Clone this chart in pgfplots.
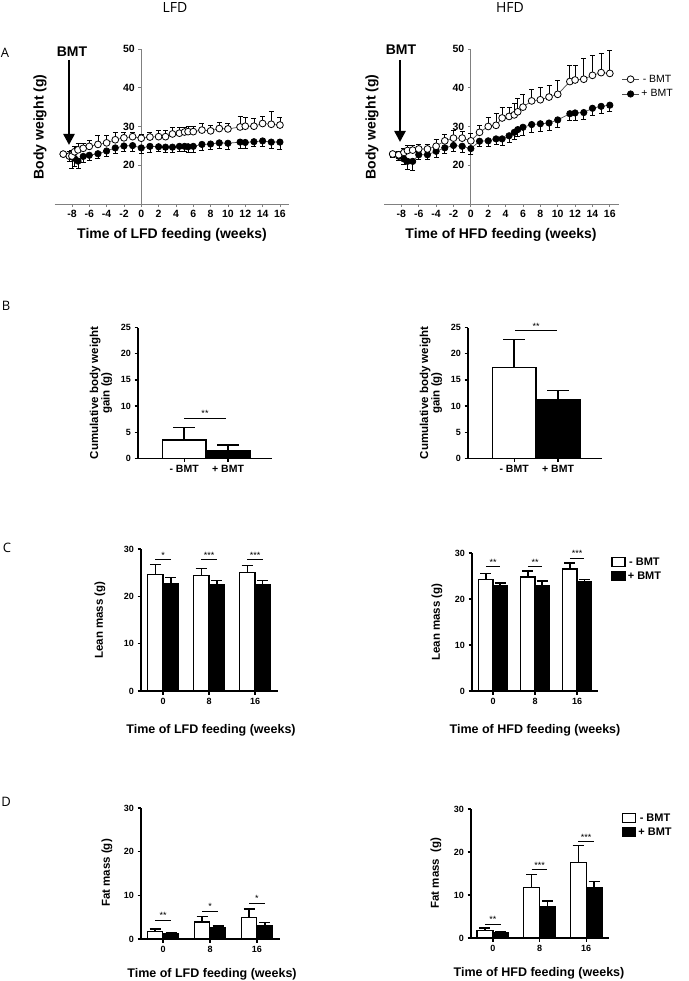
\documentclass[border=0pt]{standalone}
\usepackage{fontspec}
\setmainfont{Liberation Sans}
\newfontfamily\lightfont{Open Sans}
\usepackage{pgfplots}
\pgfplotsset{compat=1.18}
\usetikzlibrary{arrows.meta}

\newcommand\fs[1]{\fontsize{#1}{#1}\selectfont}
% significance bar: x1, x2, y, stars
\newcommand\sig[4]{\draw[line width=0.8pt] (axis cs:#1,#3) -- (axis cs:#2,#3) node[midway, above, inner sep=1pt, font=\fs{9}] {#4};}

\pgfplotsset{
  panelA/.style={scale only axis, anchor=south west,
    xmin=-10, xmax=17, ymin=10, ymax=50,
    axis x line=bottom, axis y line=middle,
    axis line style={-, draw=gray, line width=0.8pt},
    xtick={-8,-6,...,16}, ytick={20,30,40,50},
    tick align=outside, major tick length=3pt,
    tick style={gray, line width=0.8pt},
    hide obscured x ticks=false, hide obscured y ticks=false,
    ticklabel style={font=\fs{10.5}\bfseries},
    /pgf/number format/assume math mode=true,
    clip=false},
  barpanel/.style={scale only axis, anchor=south west, ymin=0,
    axis x line=bottom, axis y line=left,
    axis line style={-, line width=1.2pt},
    tick align=outside, major tick length=3.5pt,
    tick style={black, line width=1.2pt},
    ticklabel style={font=\fs{9}\bfseries},
    /pgf/number format/assume math mode=true,
    clip=false},
  openpt/.style={color=black!70, line width=0.7pt, mark=*, mark size=3.4pt,
    mark options={draw=black, fill=white, line width=0.8pt},
    error bars/.cd, y dir=plus, y explicit,
    error bar style={black, line width=0.8pt},
    error mark options={rotate=90, mark size=2.5pt, black, line width=0.8pt}},
  closedpt/.style={color=black!70, line width=0.7pt, mark=*, mark size=3.2pt,
    mark options={draw=black, fill=black},
    error bars/.cd, y dir=minus, y explicit,
    error bar style={black, line width=0.8pt},
    error mark options={rotate=90, mark size=2.5pt, black, line width=0.8pt}},
  whitebar/.style={ybar, bar shift=0pt, bar width=#1, fill=white, draw=black, line width=1.3pt,
    error bars/.cd, y dir=plus, y explicit,
    error bar style={line width=1.3pt},
    error mark options={rotate=90, mark size=5.5pt, line width=1.3pt}},
  blackbar/.style={ybar, bar shift=0pt, bar width=#1, fill=black, draw=black, line width=1.3pt,
    error bars/.cd, y dir=plus, y explicit,
    error bar style={line width=1.3pt},
    error mark options={rotate=90, mark size=5.5pt, line width=1.3pt}},
  boxlegend/.style={legend image code/.code={\draw[##1, line width=1.5pt] (0pt,-4pt) rectangle (13pt,5pt);},
    legend style={draw=none, fill=none, font=\fs{11}\bfseries, row sep=1pt,
      nodes={inner sep=2pt}}},
}

\pgfplotstableread{
w     m     e
-9    22.9  0.5
-8.3  22.4  1.1
-8    22.4  1.5
-7.7  23.5  1.3
-7.3  24.0  1.6
-6.7  24.4  1.2
-6    24.9  1.5
-5    25.4  2.3
-4    25.8  2.0
-3    26.6  2.0
-2    27.1  1.5
-1    27.4  1.2
0     27.0  1.1
1     27.3  1.3
2     27.4  1.6
2.8   27.4  1.6
3.6   28.1  1.8
4.4   28.3  1.6
5     28.6  1.3
5.4   28.7  1.4
6     28.7  1.4
7     29.1  1.7
8     28.9  1.5
9     29.5  1.7
10    29.4  1.5
11.4  29.9  2.7
12    30.1  2.4
13    30.1  2.0
14    30.8  1.8
15    30.6  3.2
16    30.4  1.9
}\lfdopen
\pgfplotstableread{
w     m     e
-9    22.9  0.5
-8.3  22.4  1.5
-8    22.2  3.0
-7.7  21.8  2.0
-7.3  21.1  2.0
-6.7  22.3  1.5
-6    22.6  1.3
-5    23.0  1.2
-4    23.7  1.3
-3    24.5  1.5
-2    25.0  1.5
-1    25.1  1.5
0     24.5  1.5
1     24.9  1.5
2     24.8  1.3
2.8   24.7  1.3
3.6   24.7  1.3
4.4   24.9  1.3
5     24.9  1.3
5.4   24.8  1.5
6     24.9  1.5
7     25.4  1.5
8     25.5  1.5
9     25.8  1.3
10    25.7  1.5
11.4  26.0  1.5
12    25.9  1.5
13    26.1  1.3
14    26.3  1.5
15    26.0  1.7
16    26.0  1.8
}\lfdclosed
\pgfplotstableread{
w     m     e
-9    22.9  0.8
-8.3  22.7  0.8
-7.7  23.3  1.0
-7.3  23.8  1.2
-6.7  23.9  1.3
-6    24.2  1.3
-5    24.2  1.2
-4    24.9  1.7
-3    26.3  1.6
-2    27.0  1.9
-1    27.0  1.7
0     26.3  2.0
1     28.5  1.9
2     30.0  2.4
2.9   30.3  3.2
3.6   32.2  2.8
4.4   32.6  2.4
5     33.0  3.0
5.4   33.8  3.5
6     35.0  3.2
7     36.6  3.0
8     36.9  3.2
9     37.6  2.9
10    38.3  3.7
11.4  41.6  4.2
12    42.0  3.8
13    42.2  5.4
14    43.2  5.2
15    43.9  5.0
16    43.7  5.9
}\hfdopen
\pgfplotstableread{
w     m     e
-9    22.9  0.8
-8.3  22.3  1.0
-7.7  21.6  1.5
-7.3  21.0  2.1
-6.7  21.0  2.4
-6    22.7  1.2
-5    22.7  1.3
-4    23.6  1.5
-3    24.5  1.5
-2    25.1  1.5
-1    24.9  1.5
0     24.3  1.5
1     26.2  1.3
2     26.3  1.5
2.9   26.8  1.5
3.6   26.8  1.8
4.4   27.6  1.8
5     28.5  1.8
5.4   29.2  1.8
6     29.8  2.0
7     30.5  2.0
8     30.7  2.0
9     30.9  2.0
10    31.7  2.0
11.4  33.3  1.8
12    33.5  1.8
13    33.6  1.8
14    34.7  1.8
15    35.2  1.7
16    35.5  1.6
}\hfdclosed

\begin{document}
\begin{tikzpicture}
\useasboundingbox (0pt,0pt) rectangle (688pt,-981pt);

% ---------------- A ----------------
\begin{axis}[panelA, at={(54.6pt,-204.1pt)}, width=234pt, height=155pt]
\addplot+[closedpt] table[x=w, y=m, y error=e] {\lfdclosed};
\addplot+[openpt] table[x=w, y=m, y error=e] {\lfdopen};
\end{axis}

\begin{axis}[panelA, at={(384pt,-204pt)}, width=234.5pt, height=155pt,
  reverse legend,
  legend style={at={(axis description cs:1.0,0.86)}, anchor=north west, draw=none, fill=none,
    font=\fs{10.5}, row sep=2pt}]
\addplot+[closedpt] table[x=w, y=m, y error=e] {\hfdclosed};
\addlegendentry{+ BMT}
\addplot+[openpt] table[x=w, y=m, y error=e] {\hfdopen};
\addlegendentry{- BMT}
\end{axis}

% ---------------- B ----------------
\begin{axis}[barpanel, at={(138pt,-458.3pt)}, width=134pt, height=130.6pt,
  xmin=-1.05, xmax=2.0, ymax=25, ytick={0,5,...,25},
  xtick={0,1}, xticklabels={- BMT, + BMT},
  xticklabel style={font=\fs{10.5}\bfseries}]
\addplot[whitebar=1, error mark options={rotate=90, mark size=11pt, line width=1.3pt}]
  coordinates {(0,3.5) +- (0,2.4)};
\addplot[blackbar=1, error mark options={rotate=90, mark size=11pt, line width=1.3pt}]
  coordinates {(1,1.4) +- (0,1.15)};
\sig{0}{0.95}{7.66}{**}
\end{axis}

\begin{axis}[barpanel, at={(468pt,-458.3pt)}, width=134pt, height=130.6pt,
  xmin=-1.05, xmax=2.0, ymax=25, ytick={0,5,...,25},
  xtick={0,1}, xticklabels={- BMT, + BMT},
  xticklabel style={font=\fs{10.5}\bfseries}]
\addplot[whitebar=1, error mark options={rotate=90, mark size=11pt, line width=1.3pt}]
  coordinates {(0,17.4) +- (0,5.3)};
\addplot[blackbar=1, error mark options={rotate=90, mark size=11pt, line width=1.3pt}]
  coordinates {(1,11.3) +- (0,1.7)};
\sig{0.03}{0.97}{24.4}{**}
\end{axis}

% ---------------- C ----------------
\begin{axis}[barpanel, at={(141pt,-691pt)}, width=137pt, height=142pt,
  xmin=-0.48, xmax=2.5, ymax=30, ytick={0,10,20,30},
  xtick={0,1,2}, xticklabels={0,8,16}]
\addplot[whitebar=0.34] coordinates {(-0.17,24.6) +- (0,2.1) (0.83,24.4) +- (0,1.5) (1.83,25.0) +- (0,1.5)};
\addplot[blackbar=0.34] coordinates {(0.17,22.7) +- (0,1.3) (1.17,22.4) +- (0,1.0) (2.17,22.5) +- (0,0.9)};
\sig{-0.17}{0.17}{27.8}{*}
\sig{0.83}{1.17}{27.8}{***}
\sig{1.83}{2.17}{27.8}{***}
\end{axis}

\begin{axis}[barpanel, at={(472pt,-691pt)}, width=126pt, height=138pt,
  xmin=-0.5, xmax=2.5, ymax=30, ytick={0,10,20,30},
  xtick={0,1,2}, xticklabels={0,8,16}, boxlegend,
  legend style={at={(axis description cs:1.08,0.995)}, anchor=north west}]
\addplot[whitebar=0.34] coordinates {(-0.17,24.3) +- (0,1.3) (0.83,24.8) +- (0,1.3) (1.83,26.5) +- (0,1.3)};
\addlegendentry{- BMT}
\addplot[blackbar=0.34] coordinates {(0.17,22.8) +- (0,0.7) (1.17,23.0) +- (0,0.9) (2.17,23.7) +- (0,0.6)};
\addlegendentry{+ BMT}
\sig{-0.17}{0.17}{27.0}{**}
\sig{0.83}{1.17}{27.0}{**}
\sig{1.83}{2.17}{28.9}{***}
\end{axis}

% ---------------- D ----------------
\begin{axis}[barpanel, at={(141pt,-939pt)}, width=139pt, height=131pt,
  xmin=-0.47, xmax=2.49, ymax=30, ytick={0,10,20,30},
  xtick={0,1,2}, xticklabels={0,8,16}]
\addplot[whitebar=0.33] coordinates {(-0.17,1.8) +- (0,0.5) (0.83,3.9) +- (0,1.3) (1.83,4.9) +- (0,2.0)};
\addplot[blackbar=0.33] coordinates {(0.17,1.3) +- (0,0.2) (1.17,2.7) +- (0,0.3) (2.17,3.1) +- (0,0.7)};
\sig{-0.17}{0.17}{4.3}{**}
\sig{0.83}{1.17}{6.4}{*}
\sig{1.83}{2.17}{8.2}{*}
\end{axis}

\begin{axis}[barpanel, at={(471pt,-938pt)}, width=138pt, height=129pt,
  xmin=-0.47, xmax=2.49, ymax=30, ytick={0,10,20,30},
  xtick={0,1,2}, xticklabels={0,8,16}, boxlegend,
  legend style={at={(axis description cs:1.07,0.995)}, anchor=north west}]
\addplot[whitebar=0.34] coordinates {(-0.17,1.8) +- (0,0.5) (0.83,11.8) +- (0,3.0) (1.83,17.6) +- (0,3.9)};
\addlegendentry{- BMT}
\addplot[blackbar=0.34] coordinates {(0.17,1.3) +- (0,0.2) (1.17,7.4) +- (0,1.2) (2.17,11.8) +- (0,1.4)};
\addlegendentry{+ BMT}
\sig{-0.17}{0.17}{3.2}{**}
\sig{0.83}{1.17}{15.9}{***}
\sig{1.83}{2.17}{22.4}{***}
\end{axis}

% ---------------- labels and annotations ----------------
\node[font=\lightfont\fs{14}] at (175pt,-8pt) {LFD};
\node[font=\lightfont\fs{14}] at (510pt,-8pt) {HFD};
\node[font=\lightfont\fs{13}] at (5pt,-53pt) {A};
\node[font=\lightfont\fs{13}] at (6pt,-306pt) {B};
\node[font=\lightfont\fs{13}] at (7pt,-548pt) {C};
\node[font=\lightfont\fs{13}] at (6pt,-802pt) {D};

\node[font=\fs{14}\bfseries] at (72pt,-52pt) {BMT};
\node[font=\fs{14}\bfseries] at (401pt,-50pt) {BMT};
\draw[line width=2.5pt, -{Triangle[length=11pt,width=11pt]}] (69pt,-60pt) -- (69pt,-145pt);
\draw[line width=2.5pt, -{Triangle[length=11pt,width=11pt]}] (400pt,-60pt) -- (400pt,-142pt);

\node[font=\fs{14}\bfseries, rotate=90] at (40pt,-127pt) {Body weight (g)};
\node[font=\fs{14}\bfseries, rotate=90] at (372pt,-127pt) {Body weight (g)};
\node[font=\fs{14}\bfseries] at (172pt,-235pt) {Time of LFD feeding (weeks)};
\node[font=\fs{14}\bfseries] at (501pt,-235pt) {Time of HFD feeding (weeks)};

\node[font=\fs{11.5}\bfseries, rotate=90, align=center] at (101pt,-393pt) {Cumulative body weight\\gain (g)};
\node[font=\fs{11.5}\bfseries, rotate=90, align=center] at (431pt,-393pt) {Cumulative body weight\\gain (g)};

\node[font=\fs{11.5}\bfseries, rotate=90] at (100pt,-620pt) {Lean mass (g)};
\node[font=\fs{11.5}\bfseries, rotate=90] at (437pt,-622pt) {Lean mass (g)};
\node[font=\fs{12.5}\bfseries] at (211pt,-730pt) {Time of LFD feeding (weeks)};
\node[font=\fs{12.5}\bfseries] at (535pt,-730pt) {Time of HFD feeding (weeks)};

\node[font=\fs{11.5}\bfseries, rotate=90] at (107pt,-873pt) {Fat mass (g)};
\node[font=\fs{11.5}\bfseries, rotate=90] at (436pt,-873pt) {Fat mass\ \ (g)};
\node[font=\fs{12.5}\bfseries] at (212pt,-974pt) {Time of LFD feeding (weeks)};
\node[font=\fs{12.5}\bfseries] at (539pt,-973pt) {Time of HFD feeding (weeks)};
\end{tikzpicture}
\end{document}
